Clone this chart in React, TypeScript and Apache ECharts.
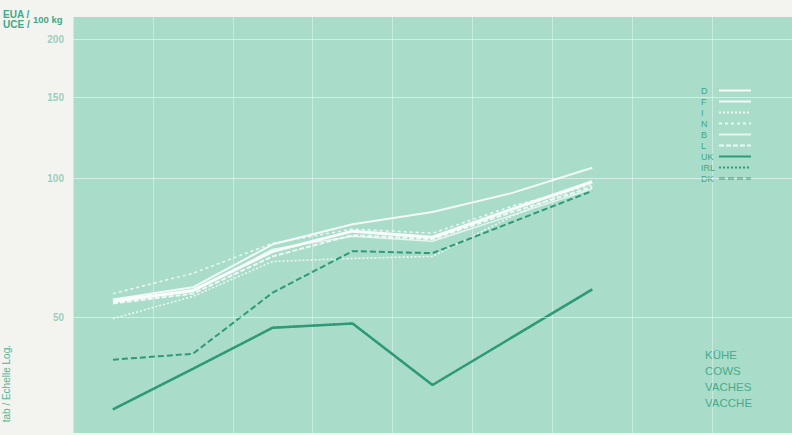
import React, { useEffect, useRef } from 'react';
import * as echarts from 'echarts';

// Categories (years) – 9 bands, data for the first 7
const years = ['1968', '1969', '1970', '1971', '1972', '1973', '1974', '1975', '1976'];

// Horizontal reference values on the log scale
const gridValues = [50, 100, 150, 200];

// Legend order
const legendNames = ['D', 'F', 'I', 'N', 'B', 'L', 'UK', 'IRL', 'DK'];

// Series values (EUA / UCE per 100 kg)
const valD = [54.0, 57.1, 69.4, 76.8, 74.5, 85.8, 98.3];
const valF = [54.6, 58.0, 71.9, 79.5, 84.5, 93.0, 105.4];
const valI = [49.6, 55.4, 66.0, 67.0, 67.7, 82.8, 98.8];
const valN = [56.2, 62.2, 72.3, 77.6, 76.0, 87.1, 96.8];
const valB = [54.6, 56.8, 70.2, 74.9, 73.0, 83.2, 94.9];
const valL = [53.5, 56.2, 67.7, 75.3, 73.8, 84.5, 95.8];
const valUK = [31.5, 38.6, 47.4, 48.4, 35.6, 45.2, 57.4];
const valIRL = [31.5, 38.6, 47.4, 48.4, 35.6, 45.2, 57.4];
const valDK = [40.4, 41.6, 56.5, 69.5, 68.8, 80.4, 93.9];

// Texts
const unitLines = ['EUA /', 'UCE /'];
const unitText = '100 kg';
const scaleText = 'tab / Echelle Log.';
const captionLines = ['KÜHE', 'COWS', 'VACHES', 'VACCHE'];

const FONT = '"Liberation Sans", Arial, sans-serif';
const GREEN = '#2e9a77';
const TEXT_GREEN = '#3fa886';
const MINT = '#a9ddca';

export default function App() {
  const ref = useRef<HTMLDivElement>(null);

  useEffect(() => {
    const chart = echarts.init(ref.current as HTMLDivElement, null, { renderer: 'svg' });

    const white = (name: string, data: number[], width: number, type: any, opacity: number) => ({
      name,
      type: 'line',
      data,
      symbol: 'none',
      silent: true,
      z: 2,
      itemStyle: { color: '#ffffff' },
      lineStyle: { color: '#ffffff', width, type, opacity },
    });

    const option: any = {
      animation: false,
      backgroundColor: '#f3f3f0',
      grid: {
        left: 73,
        top: 17,
        width: 720,
        height: 416,
        show: true,
        backgroundColor: MINT,
        borderWidth: 0,
      },
      xAxis: {
        type: 'category',
        data: years,
        boundaryGap: true,
        axisLine: { show: false },
        axisTick: { show: false },
        axisLabel: { show: false },
        splitLine: {
          show: true,
          interval: 0,
          lineStyle: { color: '#ffffff', opacity: 0.4, width: 1 },
        },
      },
      yAxis: {
        type: 'log',
        logBase: 10,
        min: 28,
        max: 224,
        axisLine: { show: false },
        axisTick: { show: false },
        axisLabel: { show: false },
        splitLine: { show: false },
      },
      legend: {
        data: legendNames,
        orient: 'vertical',
        right: 40,
        top: 86,
        itemWidth: 32,
        itemHeight: 9,
        itemGap: 2,
        align: 'right',
        padding: 0,
        selectedMode: false,
        itemStyle: { opacity: 0 },
        formatter: '{a|{name}}',
        textStyle: {
          color: TEXT_GREEN,
          fontSize: 9,
          fontFamily: FONT,
          rich: {
            a: { width: 13, align: 'left', color: TEXT_GREEN, fontSize: 9, fontFamily: FONT },
          },
        },
      },
      series: [
        {
          name: 'grid',
          type: 'line',
          data: [],
          z: 1,
          silent: true,
          markLine: {
            silent: true,
            symbol: ['none', 'none'],
            lineStyle: { color: '#ffffff', opacity: 0.5, width: 1, type: 'solid' },
            label: {
              show: true,
              position: 'start',
              distance: 9,
              formatter: (p: any) => String(p.value),
              color: TEXT_GREEN,
              fontSize: 10,
              fontWeight: 'bold',
              fontFamily: FONT,
            },
            data: gridValues.map((v) => ({ yAxis: v })),
          },
        },
        white('D', valD, 3, 'solid', 0.9),
        white('F', valF, 2, 'solid', 0.85),
        white('I', valI, 1.5, [2, 2], 0.85),
        white('N', valN, 1.5, [3, 3], 0.8),
        white('B', valB, 1.5, 'solid', 0.7),
        white('L', valL, 2, [5, 2], 0.8),
        {
          name: 'IRL',
          type: 'line',
          data: valIRL,
          symbol: 'none',
          silent: true,
          z: 3,
          itemStyle: { color: GREEN },
          lineStyle: { color: GREEN, width: 2, type: [2, 2] },
        },
        {
          name: 'DK',
          type: 'line',
          data: valDK,
          symbol: 'none',
          silent: true,
          z: 3,
          itemStyle: { color: GREEN },
          lineStyle: { color: GREEN, width: 2, type: [6, 3] },
        },
        {
          name: 'UK',
          type: 'line',
          data: valUK,
          symbol: 'none',
          silent: true,
          z: 4,
          itemStyle: { color: GREEN },
          lineStyle: { color: GREEN, width: 2.5, type: 'solid' },
        },
      ],
      graphic: [
        ...unitLines.map((t, i) => ({
          type: 'text',
          left: 3,
          top: 9 + i * 10,
          style: { text: t, fill: TEXT_GREEN, font: `bold 10px ${FONT}` },
        })),
        {
          type: 'text',
          left: 33,
          top: 14,
          style: { text: unitText, fill: TEXT_GREEN, font: `bold 9.5px ${FONT}` },
        },
        {
          type: 'text',
          x: 6,
          y: 345,
          rotation: Math.PI / 2,
          style: {
            text: scaleText,
            fill: '#55b394',
            font: `10px ${FONT}`,
            align: 'right',
            verticalAlign: 'middle',
          },
        },
        ...captionLines.map((t, i) => ({
          type: 'text',
          left: 705,
          top: 349 + i * 16,
          style: { text: t, fill: '#48ab8a', font: `11.5px ${FONT}` },
        })),
      ],
    };

    chart.setOption(option);
    return () => chart.dispose();
  }, []);

  return (
    <div
      ref={ref}
      style={{ position: 'fixed', left: 0, top: 0, width: 792, height: 435, background: '#f3f3f0' }}
    />
  );
}
